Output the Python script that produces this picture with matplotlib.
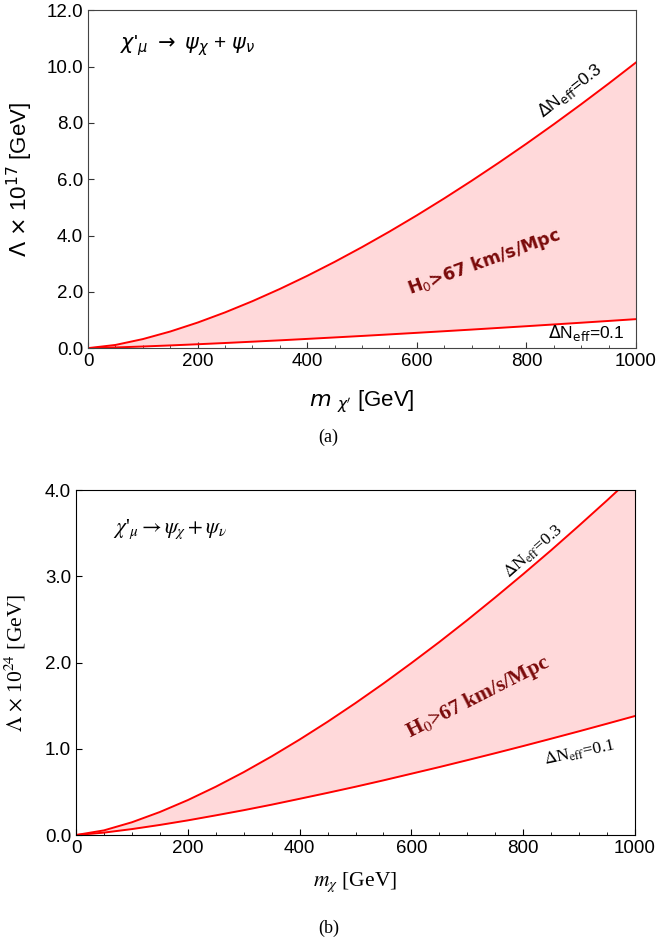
import matplotlib
matplotlib.use("Agg")
import matplotlib.pyplot as plt
from matplotlib.ticker import MultipleLocator, FormatStrFormatter

# ---- data ----
m_vals = [0, 50, 100, 150, 200, 250, 300, 350, 400, 450, 500,
          550, 600, 650, 700, 750, 800, 850, 900, 950, 1000]

# panel (a): Lambda x 1e17 [GeV]
a_upper = [0, 0.113, 0.321, 0.590, 0.908, 1.269, 1.668, 2.102, 2.568, 3.064, 3.589,
           4.140, 4.717, 5.319, 5.945, 6.593, 7.263, 7.954, 8.666, 9.398, 10.15]
a_lower = [0, 0.024, 0.058, 0.096, 0.138, 0.182, 0.229, 0.277, 0.328, 0.380, 0.433,
           0.488, 0.544, 0.601, 0.659, 0.719, 0.779, 0.841, 0.903, 0.966, 1.03]

# panel (b): Lambda x 1e24 [GeV]
b_upper = [0, 0.054, 0.148, 0.267, 0.405, 0.560, 0.729, 0.912, 1.107, 1.313, 1.530,
           1.757, 1.994, 2.238, 2.492, 2.755, 3.025, 3.302, 3.588, 3.880, 4.18]
b_lower = [0, 0.028, 0.069, 0.117, 0.170, 0.228, 0.288, 0.352, 0.420, 0.489, 0.560,
           0.634, 0.711, 0.788, 0.868, 0.949, 1.032, 1.117, 1.203, 1.291, 1.38]

RED = "#ff0000"
FILL = "#ffd9da"
DARKRED = "#7a0a0a"

fig = plt.figure(figsize=(6.57, 9.46), dpi=100)

# ---------------- panel (a) ----------------
ax1 = fig.add_axes([0.134, 0.632, 0.834, 0.357])
ax1.fill_between(m_vals, a_lower, a_upper, color=FILL, lw=0)
ax1.plot(m_vals, a_upper, color=RED, lw=1.4)
ax1.plot(m_vals, a_lower, color=RED, lw=1.4)
ax1.set_xlim(0, 1000)
ax1.set_ylim(0, 12)
ax1.xaxis.set_major_locator(MultipleLocator(200))
ax1.xaxis.set_minor_locator(MultipleLocator(50))
ax1.yaxis.set_major_locator(MultipleLocator(2))
ax1.yaxis.set_major_formatter(FormatStrFormatter("%.1f"))
ax1.tick_params(which="both", direction="in", top=False, right=False,
                labelsize=13.5, colors="#333333", labelcolor="black")
ax1.tick_params(which="major", length=4)
ax1.tick_params(which="minor", length=2.5)
for lab in ax1.get_xticklabels() + ax1.get_yticklabels():
    lab.set_family("Liberation Sans")
for s in ax1.spines.values():
    s.set_color("#444444")
ax1.set_ylabel(r"$\Lambda$ $\times$ 10$^{17}$ [GeV]", fontsize=16,
               family="Liberation Sans", math_fontfamily="dejavusans", labelpad=8)
ax1.set_xlabel(r"$m$ $_{\chi'}$ [GeV]", fontsize=16, family="Liberation Sans",
               math_fontfamily="dejavusans", labelpad=13)
ax1.text(58, 10.75, r"$\chi$'$_{\mu}$ $\rightarrow$ $\psi_{\chi}$ + $\psi_{\nu}$",
         fontsize=15, family="Liberation Sans", math_fontfamily="dejavusans",
         ha="left", va="center")
ax1.text(880, 9.15, r"$\Delta$N$_{\mathrm{eff}}$=0.3", fontsize=12.5,
         family="Liberation Sans", math_fontfamily="dejavusans",
         rotation=38, ha="center", va="center", rotation_mode="anchor")
ax1.text(909, 0.53, r"$\Delta$N$_{\mathrm{eff}}$=0.1", fontsize=12.5,
         family="Liberation Sans", math_fontfamily="dejavusans",
         ha="center", va="center")
ax1.text(723, 3.05, r"H$_0$>67 km/s/Mpc", fontsize=12.5, color=DARKRED,
         family="DejaVu Sans", fontweight="semibold", math_fontfamily="dejavusans",
         rotation=20, ha="center", va="center", rotation_mode="anchor")
fig.text(0.5, 1 - 437 / 946, "(a)", fontsize=13, family="Liberation Serif",
         ha="center", va="center")

# ---------------- panel (b) ----------------
ax2 = fig.add_axes([0.1157, 0.1173, 0.8508, 0.3647])
ax2.fill_between(m_vals, b_lower, b_upper, color=FILL, lw=0)
ax2.plot(m_vals, b_upper, color=RED, lw=1.4)
ax2.plot(m_vals, b_lower, color=RED, lw=1.4)
ax2.set_xlim(0, 1000)
ax2.set_ylim(0, 4)
ax2.xaxis.set_major_locator(MultipleLocator(200))
ax2.xaxis.set_minor_locator(MultipleLocator(50))
ax2.yaxis.set_major_locator(MultipleLocator(1))
ax2.yaxis.set_major_formatter(FormatStrFormatter("%.1f"))
ax2.tick_params(which="both", direction="in", top=False, right=False,
                labelsize=13.5)
ax2.tick_params(which="major", length=4)
ax2.tick_params(which="minor", length=2.5)
for lab in ax2.get_xticklabels() + ax2.get_yticklabels():
    lab.set_family("Liberation Sans")
ax2.set_ylabel(r"$\Lambda$ $\times$ 10$^{24}$ [GeV]", fontsize=15.5,
               family="Liberation Serif", math_fontfamily="stix", labelpad=12)
ax2.set_xlabel(r"$m_{\chi}$ [GeV]", fontsize=15.5, family="Liberation Serif",
               math_fontfamily="stix", labelpad=10)
ax2.text(66, 3.54, r"$\chi$'$_{\mu} \rightarrow \psi_{\chi} + \psi_{\nu}$",
         fontsize=15.5, family="Liberation Serif", math_fontfamily="stix",
         ha="left", va="center")
ax2.text(818, 3.29, r"$\Delta$N$_{\mathrm{eff}}$=0.3", fontsize=12.5,
         family="Liberation Serif", math_fontfamily="stix",
         rotation=41, ha="center", va="center", rotation_mode="anchor")
ax2.text(900, 0.96, r"$\Delta$N$_{\mathrm{eff}}$=0.1", fontsize=12.5,
         family="Liberation Serif", math_fontfamily="stix",
         rotation=12, ha="center", va="center", rotation_mode="anchor")
ax2.text(719, 1.60, r"H$_0$>67 km/s/Mpc", fontsize=15.5, color=DARKRED,
         family="Liberation Serif", math_fontfamily="stix", fontweight="bold",
         rotation=27, ha="center", va="center", rotation_mode="anchor")
fig.text(0.5, 1 - 928 / 946, "(b)", fontsize=13, family="Liberation Serif",
         ha="center", va="center")

fig.savefig("out.png", dpi=100)
